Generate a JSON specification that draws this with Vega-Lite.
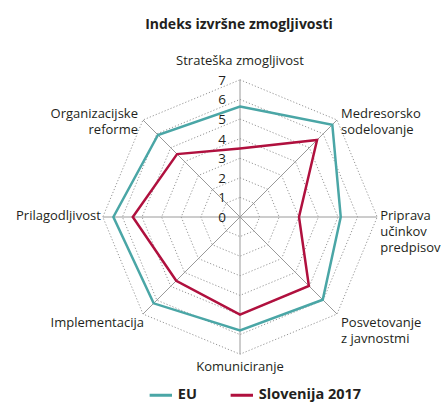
{
  "$schema": "https://vega.github.io/schema/vega-lite/v6.json",
  "width": 441.2,
  "height": 382,
  "autosize": "none",
  "padding": {"left": 4.8, "top": 21, "right": 0, "bottom": 0},
  "background": "white",
  "config": {
    "view": {"stroke": null},
    "font": "Open Sans",
    "legend": {
      "orient": "none",
      "legendX": 143,
      "legendY": 361,
      "direction": "horizontal",
      "symbolType": "stroke",
      "symbolSize": 500,
      "symbolStrokeWidth": 3,
      "labelFontSize": 14.5,
      "labelFontWeight": "bold",
      "labelColor": "#231f20",
      "labelFont": "Open Sans",
      "columnPadding": 26,
      "labelOffset": 4
    }
  },
  "title": {
    "text": "Indeks izvršne zmogljivosti",
    "fontSize": 14,
    "fontWeight": "bold",
    "font": "Open Sans",
    "color": "#231f20",
    "anchor": "middle",
    "frame": "group",
    "dx": 13.6,
    "offset": -11
  },
  "datasets": {
    "scores": [
      {"kategorija": "Strateška zmogljivost", "i": 0, "serija": "EU", "vrednost": 5.64},
      {"kategorija": "Medresorsko sodelovanje", "i": 1, "serija": "EU", "vrednost": 6.66},
      {"kategorija": "Priprava učinkov predpisov", "i": 2, "serija": "EU", "vrednost": 5.14},
      {"kategorija": "Posvetovanje z javnostmi", "i": 3, "serija": "EU", "vrednost": 5.97},
      {"kategorija": "Komuniciranje", "i": 4, "serija": "EU", "vrednost": 5.79},
      {"kategorija": "Implementacija", "i": 5, "serija": "EU", "vrednost": 6.23},
      {"kategorija": "Prilagodljivost", "i": 6, "serija": "EU", "vrednost": 6.46},
      {"kategorija": "Organizacijske reforme", "i": 7, "serija": "EU", "vrednost": 5.92},
      {"kategorija": "Strateška zmogljivost", "i": 0, "serija": "Slovenija 2017", "vrednost": 3.5},
      {"kategorija": "Medresorsko sodelovanje", "i": 1, "serija": "Slovenija 2017", "vrednost": 5.56},
      {"kategorija": "Priprava učinkov predpisov", "i": 2, "serija": "Slovenija 2017", "vrednost": 3.01},
      {"kategorija": "Posvetovanje z javnostmi", "i": 3, "serija": "Slovenija 2017", "vrednost": 4.97},
      {"kategorija": "Komuniciranje", "i": 4, "serija": "Slovenija 2017", "vrednost": 4.98},
      {"kategorija": "Implementacija", "i": 5, "serija": "Slovenija 2017", "vrednost": 4.6},
      {"kategorija": "Prilagodljivost", "i": 6, "serija": "Slovenija 2017", "vrednost": 5.47},
      {"kategorija": "Organizacijske reforme", "i": 7, "serija": "Slovenija 2017", "vrednost": 4.54}
    ],
    "grid": [
      {"level": 0, "i": [0, 1, 2, 3, 4, 5, 6, 7]},
      {"level": 1, "i": [0, 1, 2, 3, 4, 5, 6, 7]},
      {"level": 2, "i": [0, 1, 2, 3, 4, 5, 6, 7]},
      {"level": 3, "i": [0, 1, 2, 3, 4, 5, 6, 7]},
      {"level": 4, "i": [0, 1, 2, 3, 4, 5, 6, 7]},
      {"level": 5, "i": [0, 1, 2, 3, 4, 5, 6, 7]},
      {"level": 6, "i": [0, 1, 2, 3, 4, 5, 6, 7]},
      {"level": 7, "i": [0, 1, 2, 3, 4, 5, 6, 7]}
    ],
    "axes": [
      {"i": 0, "label": "Strateška zmogljivost"},
      {"i": 1, "label": "Medresorsko\nsodelovanje"},
      {"i": 2, "label": "Priprava\nučinkov\npredpisov"},
      {"i": 3, "label": "Posvetovanje\nz javnostmi"},
      {"i": 4, "label": "Komuniciranje"},
      {"i": 5, "label": "Implementacija"},
      {"i": 6, "label": "Prilagodljivost"},
      {"i": 7, "label": "Organizacijske\nreforme"}
    ]
  },
  "layer": [
    {
      "data": {"name": "grid"},
      "transform": [
        {"flatten": ["i"]},
        {"filter": "datum.level > 0"},
        {"calculate": "datum.level * sin(datum.i * PI / 4)", "as": "x"},
        {"calculate": "datum.level * cos(datum.i * PI / 4)", "as": "y"}
      ],
      "mark": {"type": "line", "interpolate": "linear-closed", "stroke": "#8a8a8a", "strokeWidth": 0.9, "strokeDash": [1.2, 2]},
      "encoding": {
        "x": {"field": "x", "type": "quantitative", "scale": {"domain": [-12, 10.5102], "nice": false, "zero": false}, "axis": null},
        "y": {"field": "y", "type": "quantitative", "scale": {"domain": [-9.4898, 10], "nice": false, "zero": false}, "axis": null},
        "detail": {"field": "level", "type": "nominal"},
        "order": {"field": "i", "type": "quantitative"}
      }
    },
    {
      "data": {"name": "grid"},
      "transform": [
        {"flatten": ["i"]},
        {"filter": "datum.level == 0 || datum.level == 7"},
        {"calculate": "datum.level * sin(datum.i * PI / 4)", "as": "x"},
        {"calculate": "datum.level * cos(datum.i * PI / 4)", "as": "y"}
      ],
      "mark": {"type": "line", "stroke": "#9a9a9a", "strokeWidth": 1},
      "encoding": {
        "x": {"field": "x", "type": "quantitative"},
        "y": {"field": "y", "type": "quantitative"},
        "detail": {"field": "i", "type": "nominal"},
        "order": {"field": "level", "type": "quantitative"}
      }
    },
    {
      "data": {"name": "scores"},
      "transform": [
        {"calculate": "datum.vrednost * sin(datum.i * PI / 4)", "as": "x"},
        {"calculate": "datum.vrednost * cos(datum.i * PI / 4)", "as": "y"}
      ],
      "mark": {"type": "line", "interpolate": "linear-closed", "strokeWidth": 2.5},
      "encoding": {
        "x": {"field": "x", "type": "quantitative"},
        "y": {"field": "y", "type": "quantitative"},
        "color": {
          "field": "serija",
          "type": "nominal",
          "scale": {"domain": ["EU", "Slovenija 2017"], "range": ["#4aa6a6", "#b0103e"]},
          "legend": {"title": null}
        },
        "order": {"field": "i", "type": "quantitative"}
      }
    },
    {
      "data": {"name": "grid"},
      "transform": [
        {"flatten": ["i"]},
        {"filter": "datum.i == 0"},
        {"calculate": "datum.level * sin(datum.i * PI / 4)", "as": "x"},
        {"calculate": "datum.level * cos(datum.i * PI / 4)", "as": "y"}
      ],
      "mark": {"type": "text", "fontSize": 13.5, "color": "#231f20", "align": "center", "baseline": "middle", "dx": -18, "dy": 1},
      "encoding": {
        "x": {"field": "x", "type": "quantitative"},
        "y": {"field": "y", "type": "quantitative"},
        "text": {"field": "level", "type": "quantitative"}
      }
    },
    {
      "data": {"name": "axes"},
      "transform": [
        {"calculate": "7 * sin(datum.i * PI / 4)", "as": "x"},
        {"calculate": "7 * cos(datum.i * PI / 4)", "as": "y"}
      ],
      "mark": {
        "type": "text",
        "fontSize": 13,
        "color": "#231f20",
        "lineBreak": "\n",
        "lineHeight": 16,
        "align": {"expr": "datum.i % 4 == 0 ? 'center' : (datum.i < 4 ? 'left' : 'right')"},
        "baseline": {"expr": "(datum.i == 0 || datum.i == 1 || datum.i == 7) ? 'bottom' : ((datum.i == 2 || datum.i == 6) ? 'middle' : 'top')"},
        "dx": {"expr": "[0, 4, 3, 4, 0, 1, -2, -5][datum.i]"},
        "dy": {"expr": "[-12, 1, -1, 2.5, 7, 2.5, -1, 1][datum.i]"}
      },
      "encoding": {
        "x": {"field": "x", "type": "quantitative"},
        "y": {"field": "y", "type": "quantitative"},
        "text": {"field": "label", "type": "nominal"}
      }
    }
  ]
}
